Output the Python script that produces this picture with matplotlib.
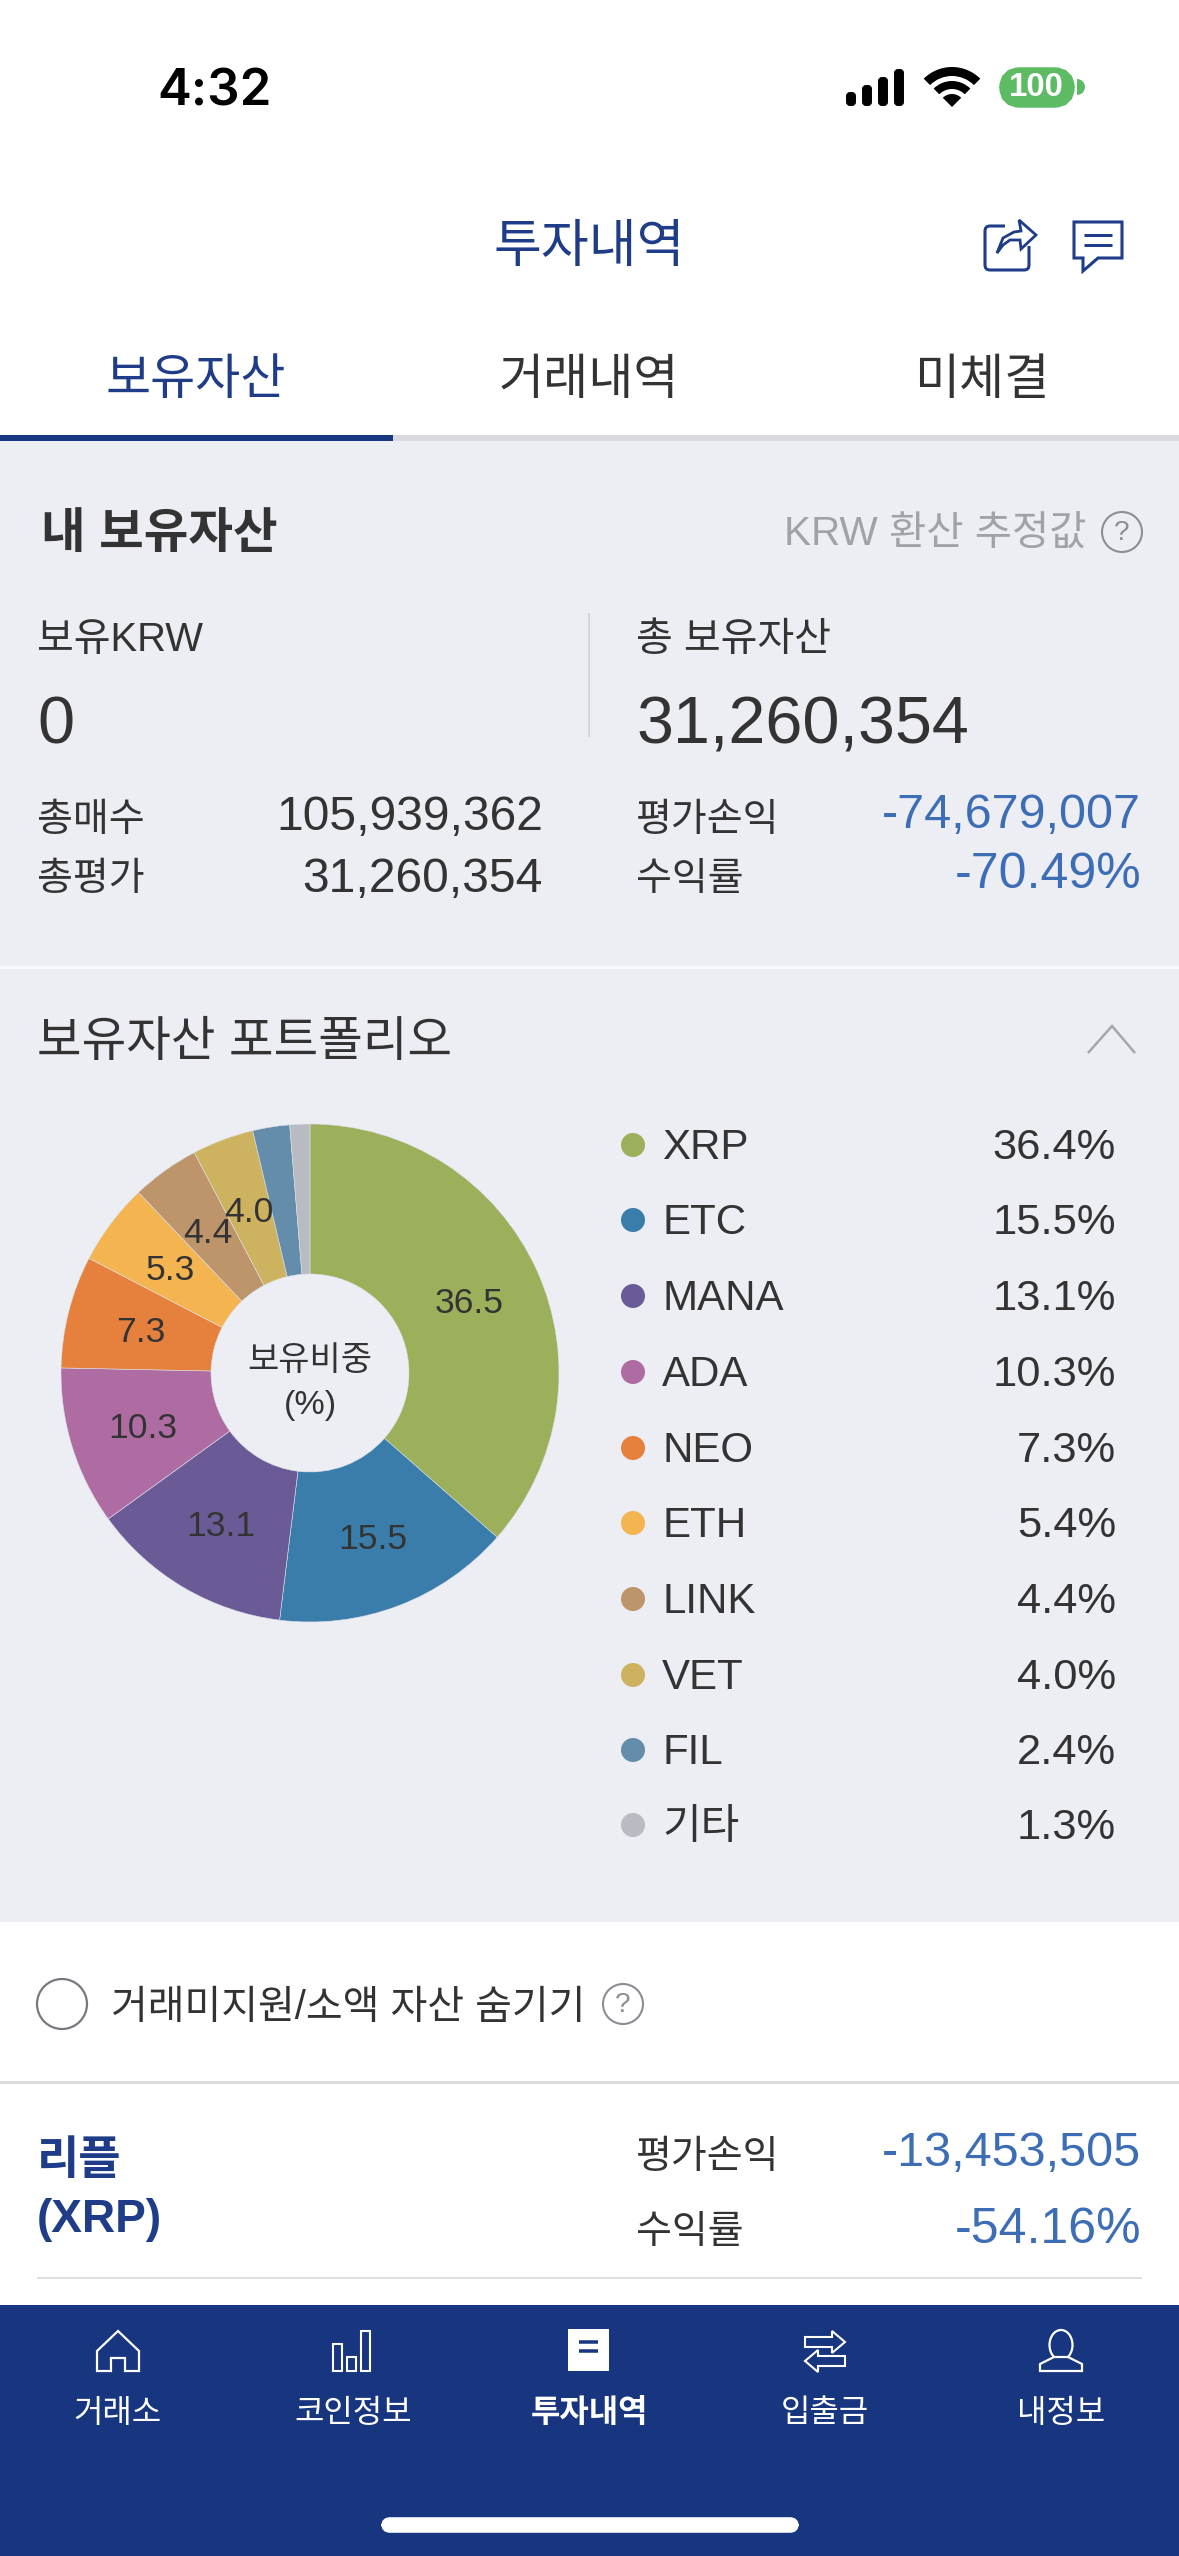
import math
import matplotlib
matplotlib.use('Agg')
import matplotlib.pyplot as plt
from matplotlib.patches import Rectangle, Circle, FancyBboxPatch, Wedge, Polygon, Ellipse

plt.rcParams['font.family'] = ['Liberation Sans', 'Noto Sans CJK KR', 'DejaVu Sans']

W, H = 1179, 2556
NAVY = '#17367F'
TITLE = '#1F3C88'
BLUE = '#3D6DB5'
DARK = '#333333'
GRAY = '#A0A2A8'
BG = '#ECEEF4'

# pie data
pie_values = [36.5, 15.5, 13.1, 10.3, 7.3, 5.3, 4.4, 4.0, 2.4, 1.3]
pie_labels = ['36.5', '15.5', '13.1', '10.3', '7.3', '5.3', '4.4', '4.0', '', '']
pie_colors = ['#9CAF5B', '#3A7DAB', '#6A5B96', '#AE6CA3', '#E5813C',
              '#F4B450', '#BE946A', '#CDB360', '#648CAB', '#B8BBC1']

# legend
legend_names = ['XRP', 'ETC', 'MANA', 'ADA', 'NEO', 'ETH', 'LINK', 'VET', 'FIL', '기타']
legend_values = ['36.4%', '15.5%', '13.1%', '10.3%', '7.3%', '5.4%', '4.4%', '4.0%', '2.4%', '1.3%']
legend_y = [1145, 1220, 1296, 1372, 1448, 1523, 1599, 1675, 1750, 1825]

# tabs and nav
tab_names = ['보유자산', '거래내역', '미체결']
tab_x = [196, 589, 982]
nav_names = ['거래소', '코인정보', '투자내역', '입출금', '내정보']
nav_x = [117, 353, 589, 825, 1061]

fig = plt.figure(figsize=(W / 100, H / 100), dpi=100, facecolor='white')
ui = fig.add_axes([0, 0, 1, 1])
ui.set_xlim(0, W)
ui.set_ylim(H, 0)
ui.axis('off')


def txt(x, y, s, px, color=DARK, ha='left', weight='normal', **kw):
    ui.text(x, y + 4, s, fontsize=px * 0.72, color=color, ha=ha, va='center',
            fontweight=weight, **kw)


def rect(x0, y0, x1, y1, color, z=1):
    ui.add_patch(Rectangle((x0, y0), x1 - x0, y1 - y0, fc=color, ec='none', zorder=z))


def line(xs, ys, color, lw=2.2, z=3):
    ui.plot(xs, ys, color=color, lw=lw * 0.72, zorder=z, solid_capstyle='butt',
            solid_joinstyle='miter')


def help_icon(x, y):
    ui.add_patch(Circle((x, y), 20, fc='none', ec='#8C8E94', lw=1.5, zorder=3))
    txt(x, y - 3, '?', 28, color='#8C8E94', ha='center')


# backgrounds
rect(0, 441, W, 1922, BG)
rect(0, 966, W, 969, '#F8F9FB', 2)
rect(0, 435, W, 441, '#D9DADF', 2)
rect(0, 435, 393, 441, NAVY, 3)
rect(0, 2081, W, 2084, '#D9DADD', 2)
rect(37, 2277, 1142, 2279, '#DEDFE2', 2)
rect(0, 2305, W, H, NAVY, 2)

# status bar
txt(215, 88, '4:32', 51, color='black', ha='center', family='Inter', weight='semibold')
for x0, top in zip([846, 862, 878, 894], [92, 85, 77, 69]):
    ui.add_patch(FancyBboxPatch((x0 + 1, top + 1), 8, 105 - top - 1,
                                boxstyle='round,pad=0,rounding_size=3',
                                fc='black', ec='black', lw=1.4, zorder=3))
for r, w in [(40, 9), (26, 8), (13, 13)]:
    ui.add_patch(Wedge((952, 107), r, 225, 315, width=w, fc='black', ec='none', zorder=3))
ui.add_patch(FancyBboxPatch((1009, 77), 56, 21, boxstyle='round,pad=0,rounding_size=11',
                            fc='#5DBB63', ec='#5DBB63', lw=14, zorder=3))
ui.add_patch(Wedge((1077, 87), 8, -90, 90, fc='#5DBB63', ec='none', zorder=3))
txt(1036, 84, '100', 33, color='white', ha='center', weight='bold', zorder=4)

# header
txt(589, 244, '투자내역', 52, color=TITLE, ha='center')
ui.add_patch(FancyBboxPatch((985, 226), 44, 44, boxstyle='round,pad=0,rounding_size=5',
                            fc='none', ec=TITLE, lw=2.2, zorder=3))
rect(1005, 216, 1036, 246, 'white', 4)
ui.add_patch(Polygon([(997, 253), (1003, 238), (1014, 232), (1021, 231), (1019, 220),
                      (1036, 235), (1021, 249), (1020, 240), (1010, 240), (1003, 245)],
                     closed=True, fc='white', ec=TITLE, lw=2, zorder=5))
ui.add_patch(Polygon([(1074, 222), (1122, 222), (1122, 258), (1098, 258), (1083, 271),
                      (1083, 258), (1074, 258)], closed=True, fc='none', ec=TITLE, lw=2.2, zorder=3))
line([1084, 1112], [235, 235], TITLE, 3)
line([1084, 1112], [245, 245], TITLE, 3)

for i, (name, x) in enumerate(zip(tab_names, tab_x)):
    txt(x, 378, name, 49, color=TITLE if i == 0 else DARK, ha='center')

# summary
txt(41, 532, '내 보유자산', 48.5, weight='bold')
txt(1086, 531, 'KRW 환산 추정값', 40.5, color=GRAY, ha='right')
help_icon(1122, 532)
txt(37, 636, '보유KRW', 40)
txt(636, 636, '총 보유자산', 40)
txt(37, 722, '0', 66.5)
txt(636, 722, '31,260,354', 66.5)
line([589, 589], [613, 737], '#D5D6DB', 2)
txt(37, 817, '총매수', 39)
txt(37, 876, '총평가', 39)
txt(543, 813, '105,939,362', 48, ha='right')
txt(543, 876, '31,260,354', 48, ha='right')
txt(636, 817, '평가손익', 39)
txt(636, 876, '수익률', 39)
txt(1141, 812, '-74,679,007', 48.5, color=BLUE, ha='right')
txt(1141, 871, '-70.49%', 50, color=BLUE, ha='right')

# portfolio
txt(37, 1039, '보유자산 포트폴리오', 48.5)
line([1088, 1112, 1135], [1053, 1026, 1053], '#A5A7AD', 2.5)
for name, val, y, c in zip(legend_names, legend_values, legend_y, pie_colors):
    ui.add_patch(Circle((633, y), 12, fc=c, ec='none', zorder=3))
    txt(662, y - 1, name, 42)
    txt(1116, y - 1, val, 43.5, ha='right')

# hide toggle and first row
ui.add_patch(Circle((62, 2004), 25, fc='white', ec='#77797E', lw=1.6, zorder=3))
txt(111, 2004, '거래미지원/소액 자산 숨기기', 40)
help_icon(623, 2004)
txt(37, 2158, '리플', 46, color=TITLE, weight='bold')
txt(37, 2216, '(XRP)', 46, color=TITLE, weight='bold')
txt(636, 2154, '평가손익', 39)
txt(636, 2229, '수익률', 39)
txt(1141, 2149, '-13,453,505', 48.5, color=BLUE, ha='right')
txt(1141, 2226, '-54.16%', 50, color=BLUE, ha='right')

# bottom nav icons
ui.add_patch(Polygon([(97, 2351), (118, 2331), (139, 2351), (139, 2371), (125, 2371), (125, 2358),
                      (111, 2358), (111, 2371), (97, 2371)], closed=True, fc='none', ec='white',
                     lw=1.6, zorder=3))
for x0, top in zip([333, 347, 361], [2344, 2357, 2331]):
    ui.add_patch(Rectangle((x0, top), 9, 2371 - top, fc='none', ec='white', lw=1.5, zorder=3))
rect(568, 2329, 609, 2371, 'white', 3)
line([579, 598], [2342, 2342], NAVY, 3.5, 4)
line([579, 598], [2351, 2351], NAVY, 3.5, 4)
ui.add_patch(Polygon([(805, 2337), (832, 2337), (832, 2331), (845, 2342), (832, 2353), (832, 2347), (805, 2347)],
                     closed=True, fc='none', ec='white', lw=1.5, zorder=3))
ui.add_patch(Polygon([(845, 2356), (818, 2356), (818, 2350), (805, 2361), (818, 2372), (818, 2366), (845, 2366)],
                     closed=True, fc=NAVY, ec='white', lw=1.5, zorder=3))
ui.add_patch(Ellipse((1061, 2345), 23, 30, fc='none', ec='white', lw=1.6, zorder=3))
ui.add_patch(Polygon([(1040, 2371), (1040, 2364), (1054, 2357), (1068, 2357), (1082, 2364), (1082, 2371)],
                     closed=True, fc=NAVY, ec='white', lw=1.6, zorder=4))
for i, (name, x) in enumerate(zip(nav_names, nav_x)):
    txt(x, 2410, name, 32, color='white', ha='center', weight='bold' if i == 2 else 'normal', zorder=4)
ui.add_patch(FancyBboxPatch((384, 2520), 412, 10, boxstyle='round,pad=0,rounding_size=6',
                            fc='white', ec='white', lw=4, zorder=4))

# donut
cx, cy, radius = 310, 1373, 249
pie_ax = fig.add_axes([(cx - radius) / W, 1 - (cy + radius) / H, 2 * radius / W, 2 * radius / H])
pie_ax.patch.set_alpha(0)
wedges, _ = pie_ax.pie(pie_values, colors=pie_colors, startangle=90, counterclock=False,
                       radius=1, normalize=True,
                       wedgeprops=dict(width=1 - 99 / 249, edgecolor='#DDE0E8', linewidth=0.4))
pie_ax.set_xlim(-1, 1)
pie_ax.set_ylim(-1, 1)

# slice labels sit at the middle of each wedge
for w, lab in zip(wedges, pie_labels):
    if lab:
        mid = math.radians((w.theta1 + w.theta2) / 2)
        pie_ax.text(0.703 * math.cos(mid), 0.703 * math.sin(mid) - 0.012, lab,
                    fontsize=35.5 * 0.72, color='#333333', ha='center', va='center')
pie_ax.text(0, 0.045, '보유비중', fontsize=34 * 0.72, color=DARK, ha='center', va='center')
pie_ax.text(0, -0.13, '(%)', fontsize=34 * 0.72, color=DARK, ha='center', va='center')

fig.savefig('out.png', dpi=100)
